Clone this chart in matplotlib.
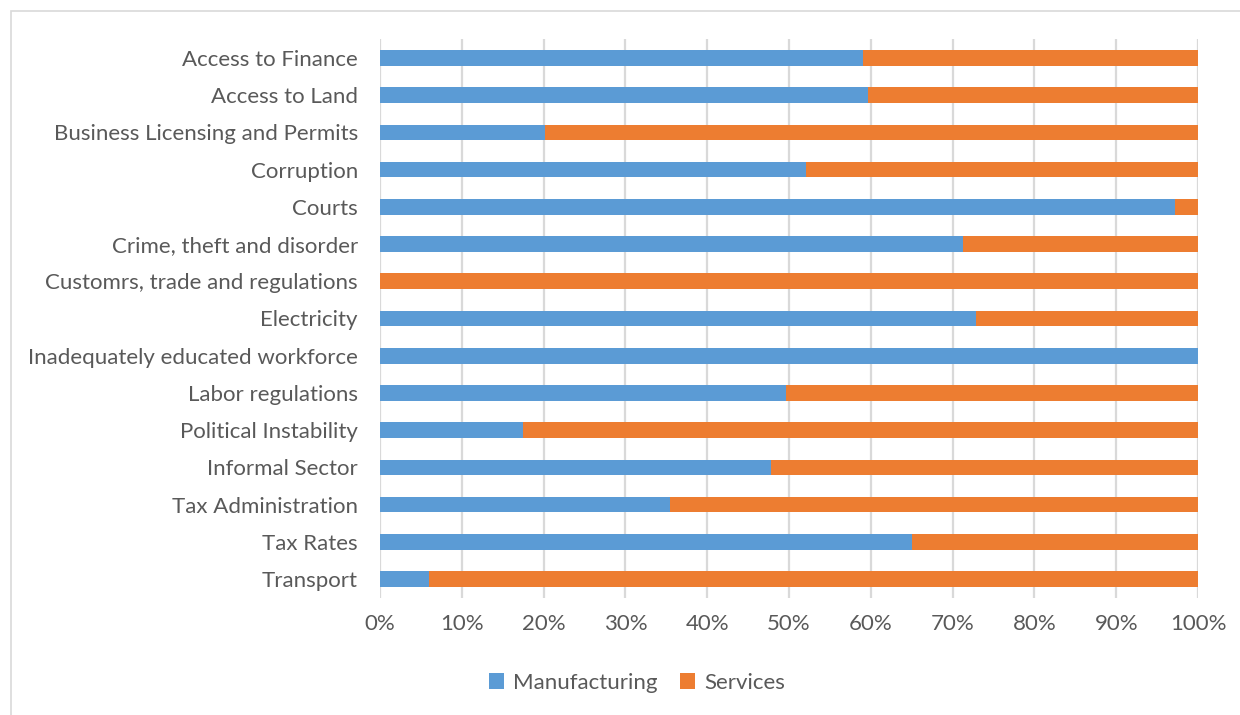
import matplotlib
matplotlib.use("Agg")
import matplotlib.pyplot as plt
from matplotlib.patches import Rectangle
from matplotlib.ticker import PercentFormatter

categories = [
    "Access to Finance",
    "Access to Land",
    "Business Licensing and Permits",
    "Corruption",
    "Courts",
    "Crime, theft and disorder",
    "Customrs, trade and regulations",
    "Electricity",
    "Inadequately educated workforce",
    "Labor regulations",
    "Political Instability",
    "Informal Sector",
    "Tax Administration",
    "Tax Rates",
    "Transport",
]
manufacturing = [59.0, 59.7, 20.2, 52.1, 97.2, 71.3, 0.0, 72.9, 100.0, 49.6, 17.5, 47.8, 35.5, 65.0, 6.0]
services = [100 - m for m in manufacturing]

blue = "#5B9BD5"
orange = "#ED7D31"
text_gray = "#595959"
grid_gray = "#D9D9D9"

plt.rcParams["font.family"] = ["Lato", "DejaVu Sans"]

W, H = 1240, 715
fig = plt.figure(figsize=(W / 100, H / 100), dpi=100)
fig.patches.append(Rectangle((11 / W, -0.01), 1.02, 1 - 11 / H + 0.01,
                             transform=fig.transFigure, fill=False,
                             edgecolor=grid_gray, linewidth=1.2))

ax = fig.add_axes([380 / W, 1 - 597.6 / H, 818 / W, (597.6 - 39.4) / H])
y = list(range(len(categories)))
ax.barh(y, manufacturing, height=0.42, color=blue, label="Manufacturing", zorder=3)
ax.barh(y, services, left=manufacturing, height=0.42, color=orange, label="Services", zorder=3)

ax.set_xlim(0, 100)
ax.set_ylim(len(categories) - 0.5, -0.5)
ax.set_yticks(y)
ax.set_yticklabels(categories)
ax.set_xticks(range(0, 101, 10))
ax.xaxis.set_major_formatter(PercentFormatter(decimals=0))
ax.grid(axis="x", color=grid_gray, linewidth=1.6, zorder=0)
for s in ax.spines.values():
    s.set_visible(False)
ax.tick_params(axis="both", length=0, labelsize=16, labelcolor=text_gray)
ax.tick_params(axis="y", pad=16)
ax.tick_params(axis="x", pad=12)

leg = fig.legend(loc="center", bbox_to_anchor=(637 / W, 1 - 683 / H), ncol=2,
                 frameon=False, fontsize=16, handlelength=0.7, handleheight=0.7,
                 handletextpad=0.4, columnspacing=1.0)
for t in leg.get_texts():
    t.set_color(text_gray)

fig.savefig("out.png", dpi=100)
